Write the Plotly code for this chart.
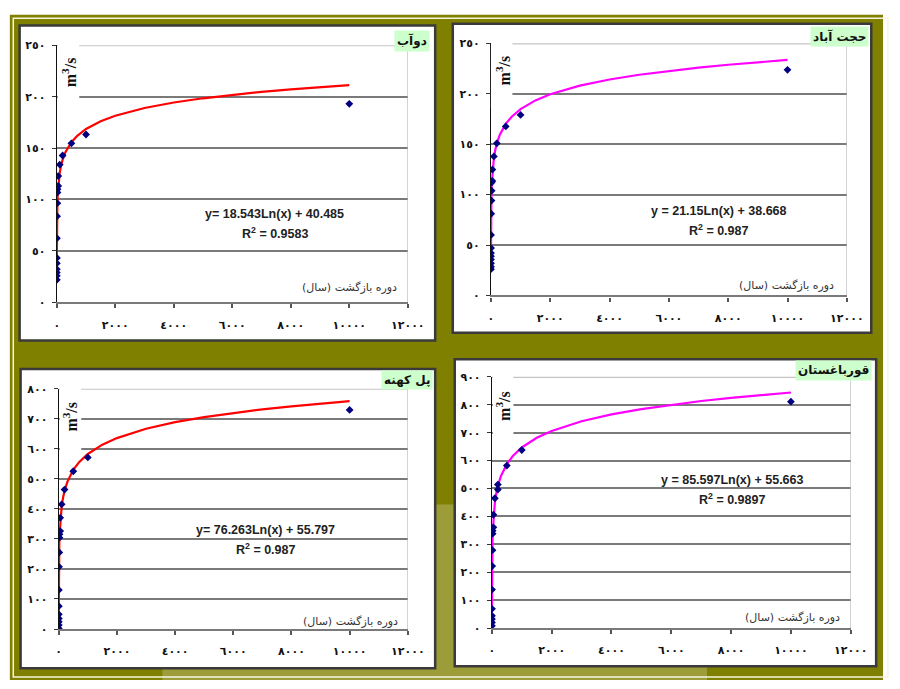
import numpy as np
import plotly.graph_objects as go

# ---------------- data ----------------
titles = ["دوآب", "حجت آباد", "پل کهنه", "قورباغستان"]

tl_x = [2, 2, 2, 2, 2, 5, 5, 10, 20, 25, 25, 50, 50, 100, 200, 500, 1000, 10000]
tl_y = [21.9, 25.8, 28.9, 32.2, 37.9, 43.2, 62.3, 83.7, 96.4, 106.9, 110, 113.2,
        122.8, 133.9, 142.8, 154.6, 163.2, 193]

tr_x = [2, 2, 2, 2, 2, 2, 5, 5, 10, 20, 25, 25, 50, 50, 100, 200, 500, 1000, 10000]
tr_y = [26, 28.5, 31.8, 35.7, 38.9, 42.1, 47, 60, 81, 94, 103.8, 111.9, 113.5,
        124.8, 137.8, 150.8, 167.6, 179, 223.7]

bl_x = [2, 2, 2, 2, 2, 5, 5, 10, 20, 25, 25, 50, 50, 100, 200, 500, 1000, 10000]
bl_y = [2, 13, 24, 35, 49, 76, 130, 207, 255, 304, 315, 326, 370, 415, 464, 525,
        571, 729]

br_x = [2, 2, 2, 2, 5, 5, 10, 20, 25, 25, 50, 50, 100, 200, 200, 500, 1000, 10000]
br_y = [8, 20, 32, 44, 69, 138, 222, 279, 338, 349, 361, 406, 465, 496, 514, 582,
        638, 811]

# trendline coefficients as printed on the chart: y = a*Ln(x) + b
trend_a = [18.543, 21.15, 76.263, 85.597]
trend_b = [40.485, 38.668, 55.797, 55.663]
eq_text = ["y= 18.543Ln(x) + 40.485", "y = 21.15Ln(x) + 38.668",
           "y= 76.263Ln(x) + 55.797", "y = 85.597Ln(x) + 55.663"]
r2_text = ["R<sup>2</sup> = 0.9583", "R<sup>2</sup> = 0.987",
           "R<sup>2</sup> = 0.987", "R<sup>2</sup> = 0.9897"]
trend_colors = ["#ff0000", "#ff00ff", "#ff0000", "#ff00ff"]
trend_x = [1, 1.5, 2, 3, 5, 7, 10, 15, 20, 30, 50, 70, 100, 150, 200, 300, 500,
           700, 1000, 1500, 2000, 3000, 4000, 5000, 6000, 7000, 8000, 9000, 10000]

x_ticks = [0, 2000, 4000, 6000, 8000, 10000, 12000]
y_ticks = [list(range(0, 251, 50)), list(range(0, 251, 50)),
           list(range(0, 801, 100)), list(range(0, 901, 100))]
y_max = [250, 250, 800, 900]

xs = [tl_x, tr_x, bl_x, br_x]
ys = [tl_y, tr_y, bl_y, br_y]

x_title = "\u200fدوره بازگشت (سال)\u200f"

# ---------------- helpers ----------------
W, H = 900, 689
def px(v):
    return v / W
def py(v):
    return 1 - v / H

AR = "٠١٢٣٤٥٦٧٨٩"
def ar(n):
    return "".join(AR[int(c)] for c in str(n))

# plot-area geometry in pixels (left, right, top, bottom)
areas = [(55, 414, 40, 302), (499, 863, 38, 295), (57, 414, 390, 635), (500, 867, 378, 634)]
panels = [(17, 20, 442, 341), (460, 18, 888, 333), (18, 370, 442, 675), (462, 360, 893, 673)]
title_pos = [(437, 24), (886, 20), (440, 371), (889, 361)]
label_box = [(56, 78, 28, 104), (499, 521, 27, 104), (58, 80, 383, 458), (501, 522, 371, 444)]
label_pos = [(67, 68), (511, 66), (69, 418), (512, 408)]
eq_pos = [(278, 212, 231), (732, 209, 228), (268, 534, 553), (746, 483, 502)]
xt_pos = [(405, 287), (852, 285), (406, 627), (858, 623)]

fig = go.Figure()
shapes = []
annotations = []

# outer olive frame
shapes.append(dict(type="rect", xref="paper", yref="paper", layer="below",
                   x0=px(7), x1=px(900), y0=py(687), y1=py(9),
                   fillcolor="#808000", line=dict(width=0)))
shapes.append(dict(type="rect", xref="paper", yref="paper", layer="below",
                   x0=px(10.5), x1=px(905), y0=py(684), y1=py(12.5),
                   fillcolor="rgba(0,0,0,0)", line=dict(color="#f4f4e0", width=1.5)))
# faint lightened watermark region
shapes.append(dict(type="rect", xref="paper", yref="paper", layer="below",
                   x0=px(163), x1=px(720), y0=py(689), y1=py(508),
                   fillcolor="rgba(255,255,255,0.22)", line=dict(width=0)))

for i in range(4):
    l, r, t, b = areas[i]
    ax = "" if i == 0 else str(i + 1)
    xa = "xaxis" + ax
    ya = "yaxis" + ax
    xref = "x" + ax
    yref = "y" + ax

    # panel
    p = panels[i]
    shapes.append(dict(type="rect", xref="paper", yref="paper", layer="below",
                       x0=px(p[0]), x1=px(p[2]), y0=py(p[3]), y1=py(p[1]),
                       fillcolor="white", line=dict(color="#3a3a3a", width=2.5)))

    # trendline
    ty = [trend_a[i] * np.log(v) + trend_b[i] for v in trend_x]
    fig.add_trace(go.Scatter(x=trend_x, y=ty, mode="lines", xaxis=xref, yaxis=yref,
                             line=dict(color=trend_colors[i], width=2.2),
                             showlegend=False, hoverinfo="skip"))
    # data points
    fig.add_trace(go.Scatter(x=xs[i], y=ys[i], mode="markers", xaxis=xref, yaxis=yref,
                             marker=dict(symbol="diamond", size=6, color="#000080"),
                             showlegend=False))

    fig.layout[xa] = dict(domain=[px(l), px(r)], range=[0, 12000], anchor=yref,
                          tickvals=x_ticks, ticktext=[ar(v) for v in x_ticks],
                          ticks="outside", ticklen=4, tickcolor="#555", tickwidth=1.5,
                          showgrid=False, zeroline=False, showline=True,
                          linecolor="#7a7a7a", linewidth=2.2,
                          ticklabelstandoff=7,
                          tickfont=dict(family="DejaVu Sans", size=11, color="#111",
                                        weight="bold"))
    fig.layout[ya] = dict(domain=[py(b), py(t)], range=[0, y_max[i]], anchor=xref,
                          tickvals=y_ticks[i], ticktext=[ar(v) for v in y_ticks[i]],
                          ticks="outside", ticklen=4, tickcolor="#333",
                          showgrid=True, gridcolor="#7a7a7a", gridwidth=2.4,
                          zeroline=False, showline=True, linecolor="#111", linewidth=1.2,
                          ticklabelstandoff=4,
                          tickfont=dict(family="DejaVu Sans", size=11, color="#111",
                                        weight="bold"))

    # top gridline (lighter) and right border of plot area
    shapes.append(dict(type="line", xref=xref, yref=yref, layer="above",
                       x0=0, x1=12000, y0=y_max[i], y1=y_max[i],
                       line=dict(color="#c4c4c4", width=2.2)))
    shapes.append(dict(type="line", xref=xref, yref=yref, layer="above",
                       x0=12000, x1=12000, y0=0, y1=y_max[i],
                       line=dict(color="#b0b0b0", width=1)))
    # white box behind the unit label
    lb = label_box[i]
    shapes.append(dict(type="rect", xref="paper", yref="paper", layer="above",
                       x0=px(lb[0]), x1=px(lb[1]), y0=py(lb[3]), y1=py(lb[2]),
                       fillcolor="white", line=dict(width=0)))

    # unit label
    lp = label_pos[i]
    annotations.append(dict(xref="paper", yref="paper", x=px(lp[0]), y=py(lp[1]),
                            text="m<sup>3</sup>/s", textangle=-90, showarrow=False,
                            xanchor="center", yanchor="middle",
                            font=dict(family="Liberation Serif", size=16, color="#111",
                                      weight="bold")))
    # station title box
    tp = title_pos[i]
    annotations.append(dict(xref="paper", yref="paper", x=px(tp[0]), y=py(tp[1]),
                            text=titles[i], showarrow=False, xanchor="right", yanchor="top",
                            bgcolor="#ccffcc", borderpad=2,
                            font=dict(family="DejaVu Sans", size=12, color="#111",
                                      weight="bold")))
    # equation
    ep = eq_pos[i]
    annotations.append(dict(xref="paper", yref="paper", x=px(ep[0]), y=py(ep[1]),
                            text=eq_text[i], showarrow=False, xanchor="center",
                            yanchor="middle",
                            font=dict(family="Liberation Sans", size=12.5, color="#222",
                                      weight="bold")))
    annotations.append(dict(xref="paper", yref="paper", x=px(ep[0]), y=py(ep[2]),
                            text=r2_text[i], showarrow=False, xanchor="center",
                            yanchor="middle",
                            font=dict(family="Liberation Sans", size=12.5, color="#222",
                                      weight="bold")))
    # x axis title
    xp = xt_pos[i]
    annotations.append(dict(xref="paper", yref="paper", x=px(xp[0]), y=py(xp[1]),
                            text=x_title, showarrow=False, xanchor="right",
                            yanchor="middle",
                            font=dict(family="DejaVu Sans", size=11, color="#333")))

fig.update_layout(width=W, height=H, margin=dict(l=0, r=0, t=0, b=0),
                  paper_bgcolor="white", plot_bgcolor="white",
                  shapes=shapes, annotations=annotations)

fig.write_html("out.html", config={"displayModeBar": False},
               post_script="document.body.style.margin='0';document.body.style.overflow='hidden';")
